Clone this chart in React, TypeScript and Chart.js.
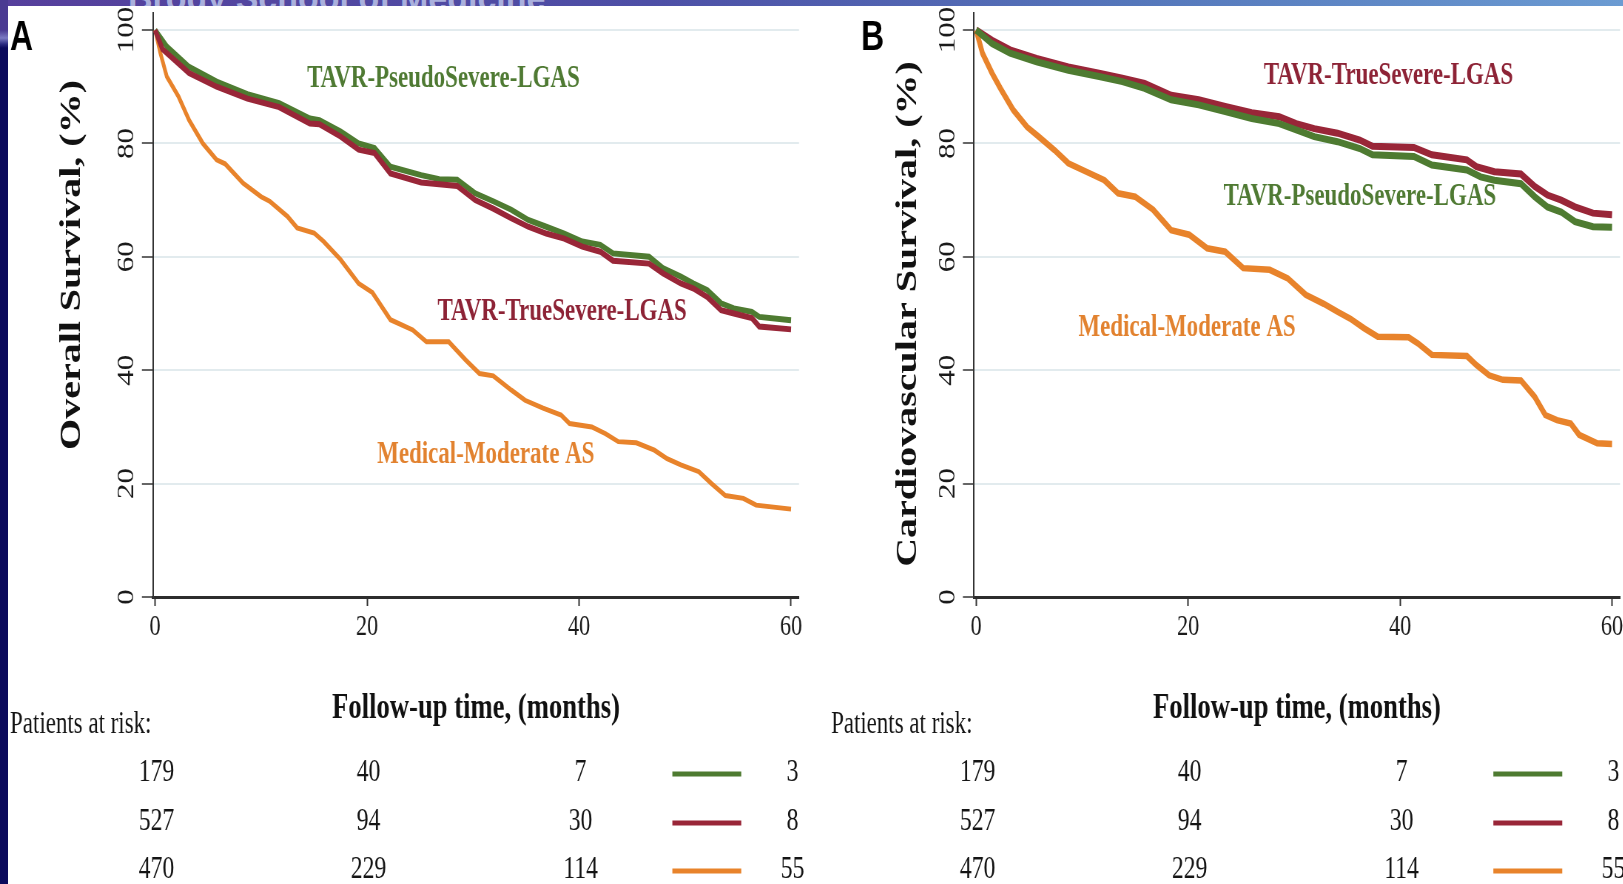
import React, { useEffect, useRef } from "react";
import { Chart, registerables } from "chart.js";

Chart.register(...registerables);

// ---------- data ----------
const tickMonths = [0, 20, 40, 60];
const yTickValues = [0, 20, 40, 60, 80, 100];

const riskPseudo = [179, 40, 7, 3];
const riskTrue = [527, 94, 30, 8];
const riskMedical = [470, 229, 114, 55];

// Panel A – overall survival
const aPseudoT = [0, 1.1, 3.2, 5.8, 8.7, 11.7, 14.6, 15.5, 17.5, 19.2, 20.7, 22.2, 25.1, 26.8, 28.5, 30.2, 31.9, 33.6, 35.2, 36.9, 38.6, 40.3, 42.0, 43.2, 46.6, 47.9, 49.6, 50.8, 52.1, 53.4, 54.6, 56.3, 57.0, 60];
const aPseudoV = [100, 97.1, 93.5, 90.9, 88.7, 87.1, 84.4, 84.1, 82.1, 80.0, 79.2, 75.9, 74.4, 73.7, 73.6, 71.2, 69.8, 68.3, 66.5, 65.3, 64.1, 62.7, 62.1, 60.6, 60.0, 58.0, 56.5, 55.3, 54.1, 51.8, 50.9, 50.3, 49.4, 48.8];

const aTrueT = [0, 0.7, 3.2, 5.8, 8.7, 11.7, 14.6, 15.5, 17.5, 19.2, 20.7, 22.2, 25.1, 28.5, 30.2, 31.9, 33.6, 35.2, 36.9, 38.6, 40.3, 42.0, 43.2, 46.6, 47.9, 49.6, 50.8, 52.1, 53.4, 54.6, 56.3, 57.0, 60];
const aTrueV = [100, 96.6, 92.4, 90.0, 87.9, 86.4, 83.5, 83.4, 81.2, 78.9, 78.3, 74.7, 73.1, 72.5, 70.0, 68.5, 66.8, 65.3, 64.1, 63.2, 61.8, 60.9, 59.3, 58.8, 57.1, 55.3, 54.4, 52.9, 50.6, 50.0, 49.2, 47.7, 47.2];

const aMedT = [0, 0.5, 1.1, 2.2, 3.2, 4.5, 5.8, 6.6, 8.3, 10.0, 10.8, 12.5, 13.4, 15.0, 15.9, 17.5, 19.2, 20.5, 22.2, 24.3, 25.6, 27.7, 29.3, 30.6, 31.9, 33.6, 34.9, 36.6, 38.3, 39.1, 41.2, 42.5, 43.7, 45.4, 47.1, 48.3, 49.6, 51.3, 52.5, 53.8, 55.5, 56.7, 60];
const aMedV = [100, 95.9, 91.8, 88.3, 84.1, 80.0, 77.1, 76.4, 73.0, 70.6, 69.8, 67.1, 65.1, 64.2, 62.7, 59.5, 55.3, 53.7, 48.9, 47.1, 45.0, 45.0, 41.8, 39.4, 39.0, 36.5, 34.7, 33.3, 32.1, 30.6, 30.0, 28.8, 27.4, 27.2, 25.9, 24.4, 23.3, 22.1, 20.0, 17.9, 17.4, 16.2, 15.5];

// Panel B – cardiovascular survival
const bTrueT = [0, 1.5, 3.2, 5.7, 8.7, 11.6, 13.8, 15.9, 18.4, 21.0, 23.5, 26.0, 28.6, 30.2, 31.9, 34.1, 36.2, 37.4, 41.3, 43.0, 46.3, 47.2, 48.9, 51.4, 52.7, 53.9, 55.2, 56.5, 58.2, 60];
const bTrueV = [100, 98.2, 96.5, 95.0, 93.5, 92.4, 91.5, 90.6, 88.5, 87.7, 86.5, 85.4, 84.7, 83.5, 82.6, 81.8, 80.6, 79.5, 79.3, 78.0, 77.1, 75.9, 75.0, 74.6, 72.4, 70.9, 70.0, 68.8, 67.7, 67.4];

const bPseudoT = [0, 1.5, 3.2, 5.7, 8.7, 11.6, 13.8, 15.9, 18.4, 21.0, 23.5, 26.0, 28.6, 30.2, 31.9, 34.1, 36.2, 37.4, 41.3, 43.0, 46.3, 47.6, 48.9, 51.4, 52.7, 53.9, 55.2, 56.5, 58.2, 60];
const bPseudoV = [100, 97.6, 95.9, 94.4, 92.9, 91.8, 90.9, 89.7, 87.7, 86.8, 85.6, 84.4, 83.5, 82.4, 81.2, 80.3, 79.1, 78.0, 77.7, 76.2, 75.3, 74.1, 73.5, 72.9, 70.6, 68.8, 67.9, 66.2, 65.3, 65.2];

const bMedT = [0, 0.6, 1.5, 2.3, 3.5, 4.8, 5.9, 7.4, 8.7, 10.4, 12.1, 13.4, 15.0, 16.7, 18.4, 20.1, 21.8, 23.5, 25.2, 27.7, 29.4, 31.1, 32.8, 34.1, 35.3, 36.6, 37.9, 40.8, 41.7, 43.0, 46.3, 47.2, 48.4, 49.7, 51.4, 52.7, 53.7, 54.8, 56.1, 56.9, 58.6, 60];
const bMedV = [100, 95.9, 92.4, 89.7, 85.9, 82.9, 81.2, 78.8, 76.5, 75.0, 73.5, 71.2, 70.6, 68.3, 64.7, 63.9, 61.5, 60.9, 58.0, 57.7, 56.2, 53.3, 51.7, 50.3, 49.1, 47.4, 45.9, 45.8, 44.7, 42.7, 42.5, 40.9, 39.1, 38.3, 38.2, 35.3, 32.1, 31.2, 30.6, 28.6, 27.1, 27.0];

// ---------- styles ----------
const S = 0.74; // horizontal squeeze of the original figure
const GREEN = "#4e7b31";
const RED = "#992638";
const ORANGE = "#e8832b";
const GREEN_TXT = "#4f7a33";
const RED_TXT = "#8d2336";
const ORANGE_TXT = "#e2822f";
const SERIF = '"Liberation Serif", "Times New Roman", serif';

const panelA = {
  letter: "A",
  leftFull: 0,
  widthFull: 805,
  plotLeftFull: 153,
  plotRightFull: 799,
  letterXFull: 10,
  patientsXFull: 10,
  yTitle: "Overall Survival, (%)",
  yTitleCenterFull: 72,
  yTitleMidY: 265,
  series: [
    { name: "TAVR-TrueSevere-LGAS", t: aTrueT, v: aTrueV, color: RED, width: 6 },
    { name: "TAVR-PseudoSevere-LGAS", t: aPseudoT, v: aPseudoV, color: GREEN, width: 6 },
    { name: "Medical-Moderate AS", t: aMedT, v: aMedV, color: ORANGE, width: 5 },
  ],
  notes: [
    { text: "TAVR-PseudoSevere-LGAS", color: GREEN_TXT, x: 27.2, y: 91.4 },
    { text: "TAVR-TrueSevere-LGAS", color: RED_TXT, x: 38.4, y: 50.3 },
    { text: "Medical-Moderate AS", color: ORANGE_TXT, x: 31.2, y: 25.0 },
  ],
};

const panelB = {
  letter: "B",
  leftFull: 805,
  widthFull: 818,
  plotLeftFull: 974,
  plotRightFull: 1620,
  letterXFull: 861,
  patientsXFull: 831,
  yTitle: "Cardiovascular Survival, (%)",
  yTitleCenterFull: 908,
  yTitleMidY: 314,
  series: [
    { name: "TAVR-PseudoSevere-LGAS", t: bPseudoT, v: bPseudoV, color: GREEN, width: 7 },
    { name: "TAVR-TrueSevere-LGAS", t: bTrueT, v: bTrueV, color: RED, width: 7 },
    { name: "Medical-Moderate AS", t: bMedT, v: bMedV, color: ORANGE, width: 6.5 },
  ],
  notes: [
    { text: "TAVR-TrueSevere-LGAS", color: RED_TXT, x: 38.9, y: 91.9 },
    { text: "TAVR-PseudoSevere-LGAS", color: GREEN_TXT, x: 36.2, y: 70.6 },
    { text: "Medical-Moderate AS", color: ORANGE_TXT, x: 19.9, y: 47.4 },
  ],
};

const riskRows = [
  { values: riskPseudo, color: GREEN },
  { values: riskTrue, color: RED },
  { values: riskMedical, color: ORANGE },
];

function Panel({ cfg }: { cfg: typeof panelA }) {
  const ref = useRef<HTMLCanvasElement | null>(null);
  const W = Math.round(cfg.widthFull / S);
  const H = 884;

  useEffect(() => {
    if (!ref.current) return;
    const areaLeft = (cfg.plotLeftFull - cfg.leftFull) / S;
    const areaRight = (cfg.plotRightFull - cfg.leftFull) / S;
    const titleCenter = (cfg.yTitleCenterFull - cfg.leftFull) / S;
    const plotBottom = 597;
    const xAxisHeight = 140;

    const overlay = {
      id: "overlay" + cfg.letter,
      afterDraw(chart: any) {
        const ctx = chart.ctx as CanvasRenderingContext2D;
        const xs = chart.scales.x;
        const ys = chart.scales.y;
        ctx.save();
        // y axis title
        ctx.save();
        ctx.translate(titleCenter, cfg.yTitleMidY);
        ctx.rotate(-Math.PI / 2);
        ctx.font = `bold 40px ${SERIF}`;
        ctx.fillStyle = "#111";
        ctx.textAlign = "center";
        ctx.textBaseline = "middle";
        ctx.fillText(cfg.yTitle, 0, 0);
        ctx.restore();
        // curve labels
        ctx.font = `bold 31px ${SERIF}`;
        ctx.textAlign = "center";
        ctx.textBaseline = "middle";
        cfg.notes.forEach((n) => {
          ctx.fillStyle = n.color;
          ctx.fillText(n.text, xs.getPixelForValue(n.x), ys.getPixelForValue(n.y));
        });
        // patients at risk
        ctx.font = `31px ${SERIF}`;
        ctx.fillStyle = "#141414";
        ctx.textAlign = "left";
        ctx.textBaseline = "alphabetic";
        ctx.fillText("Patients at risk:", (cfg.patientsXFull - cfg.leftFull) / S, 733);
        const rowY = [773, 822, 870];
        riskRows.forEach((row, r) => {
          ctx.textAlign = "center";
          ctx.textBaseline = "middle";
          ctx.fillStyle = "#141414";
          ctx.font = `32px ${SERIF}`;
          row.values.forEach((n, i) => {
            ctx.fillText(String(n), xs.getPixelForValue(tickMonths[i]) + 2, rowY[r]);
          });
          ctx.strokeStyle = row.color;
          ctx.lineWidth = 5;
          ctx.lineCap = "butt";
          ctx.beginPath();
          ctx.moveTo(xs.getPixelForValue(48.8), rowY[r] + 1);
          ctx.lineTo(xs.getPixelForValue(55.3), rowY[r] + 1);
          ctx.stroke();
        });
        // panel letter
        ctx.font = 'bold 43px "Liberation Sans", Arial, sans-serif';
        ctx.fillStyle = "#000";
        ctx.textAlign = "left";
        ctx.textBaseline = "alphabetic";
        ctx.fillText(cfg.letter, (cfg.letterXFull - cfg.leftFull) / S, 50);
        ctx.restore();
      },
    };

    const chart = new Chart(ref.current, {
      type: "line",
      data: {
        datasets: cfg.series.map((s) => ({
          label: s.name,
          data: s.t.map((t, i) => ({ x: t, y: s.v[i] })),
          borderColor: s.color,
          backgroundColor: s.color,
          borderWidth: s.width,
          pointRadius: 0,
          tension: 0,
          fill: false,
          borderJoinStyle: "miter" as const,
        })),
      },
      options: {
        animation: false,
        responsive: false,
        devicePixelRatio: 1,
        events: [],
        layout: { padding: { left: 0, top: 13, right: W - areaRight, bottom: H - plotBottom - xAxisHeight } },
        plugins: { legend: { display: false }, tooltip: { enabled: false } },
        scales: {
          x: {
            type: "linear",
            min: -0.2,
            max: 60.75,
            afterBuildTicks: (s: any) => {
              s.ticks = tickMonths.map((v) => ({ value: v }));
            },
            afterFit: (s: any) => {
              s.height = xAxisHeight;
              s.paddingLeft = 0;
              s.paddingRight = 0;
            },
            grid: { drawOnChartArea: false, drawTicks: true, tickLength: 9, tickColor: "#333", tickWidth: 2 },
            border: { display: true, color: "#2d2d2d", width: 3 },
            ticks: { font: { family: SERIF, size: 30 }, color: "#1a1a1a", padding: 3, maxRotation: 0, autoSkip: false },
            title: {
              display: true,
              text: "Follow-up time, (months)",
              color: "#111",
              font: { family: SERIF, size: 36, weight: "bold", lineHeight: 1 },
              padding: { top: 0, bottom: 10 },
            },
          },
          y: {
            type: "linear",
            min: 0,
            max: 103,
            afterBuildTicks: (s: any) => {
              s.ticks = yTickValues.map((v) => ({ value: v }));
            },
            afterFit: (s: any) => {
              s.width = areaLeft;
              s.paddingTop = 0;
              s.paddingBottom = 0;
            },
            grid: { color: "#e2ebee", lineWidth: 2, drawTicks: true, tickLength: 15, tickColor: "#333", tickWidth: 1.5 },
            border: { display: true, color: "#333", width: 2 },
            ticks: {
              font: { family: SERIF, size: 31 },
              color: "#1a1a1a",
              minRotation: 90,
              maxRotation: 90,
              crossAlign: "center",
              padding: -3.5,
              autoSkip: false,
            },
            title: { display: false },
          },
        },
      },
      plugins: [overlay],
    } as any);
    return () => chart.destroy();
  }, []);

  return (
    <div
      style={{
        position: "absolute",
        left: cfg.leftFull,
        top: 0,
        width: W,
        height: H,
        transform: `scaleX(${S})`,
        transformOrigin: "0 0",
      }}
    >
      <canvas ref={ref} width={W} height={H} style={{ display: "block", width: W, height: H }} />
    </div>
  );
}

export default function App() {
  useEffect(() => {
    document.body.style.margin = "0";
    document.body.style.background = "#fff";
  }, []);
  return (
    <div
      style={{
        position: "fixed",
        left: 0,
        top: 0,
        width: 1623,
        height: 884,
        overflow: "hidden",
        background: "#fff",
      }}
    >
      <Panel cfg={panelA} />
      <Panel cfg={panelB as any} />
      <div
        style={{
          position: "absolute",
          left: 0,
          top: 0,
          width: 1623,
          height: 6,
          overflow: "hidden",
          background: "linear-gradient(90deg, #563f9c 0%, #4d4fa6 40%, #5577bb 70%, #6b9bd2 100%)",
        }}
      >
        <div
          style={{
            position: "absolute",
            left: 128,
            top: -21,
            whiteSpace: "nowrap",
            font: 'bold 34px "Liberation Sans", Arial, sans-serif',
            color: "#aab0dd",
          }}
        >
          Brody School of Medicine
        </div>
      </div>
      <div
        style={{
          position: "absolute",
          left: 0,
          top: 0,
          width: 8,
          height: 884,
          background:
            "linear-gradient(180deg, #4a3a92 0px, #4a3a92 30px, #7c7bc4 38px, #2c2c82 44px, #0b0a5c 48px, #0b0a5c 100%)",
        }}
      />
    </div>
  );
}
